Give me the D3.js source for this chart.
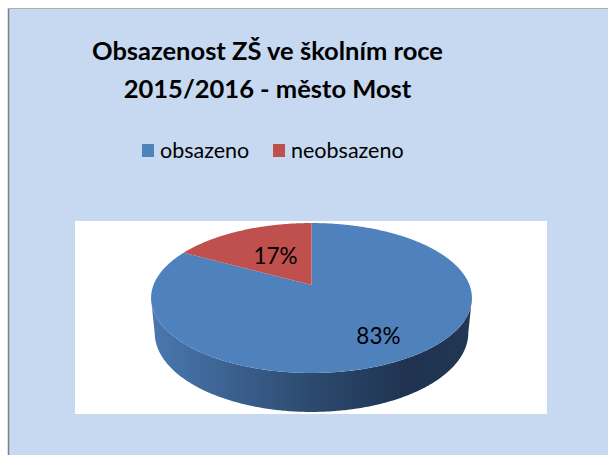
<!DOCTYPE html>
<html>
<head>
<meta charset="utf-8">
<script src="https://d3js.org/d3.v7.min.js"></script>
<style>
  body { margin: 0; background: #fff; }
  text { font-family: Lato, "Open Sans", sans-serif; }
</style>
</head>
<body>
<div id="chart"></div>
<script>
// data
var categories = ["obsazeno", "neobsazeno"];
var values = [83, 17];
var colors = ["#4f81bd", "#c0504d"];
var titleLines = ["Obsazenost ZŠ ve školním roce", "2015/2016 - město Most"];

var W = 608, H = 455;
var svg = d3.select("#chart").append("svg").attr("width", W).attr("height", H);

// chart frame
svg.append("rect").attr("x", 9).attr("y", 9).attr("width", W - 9).attr("height", H - 9).attr("fill", "#c6d9f0");
svg.append("line").attr("x1", 8.5).attr("x2", 8.5).attr("y1", 8).attr("y2", H).attr("stroke", "#7f7f7f").attr("stroke-width", 1.5);
svg.append("line").attr("x1", 8).attr("x2", W).attr("y1", 8.5).attr("y2", 8.5).attr("stroke", "#b0b0b0").attr("stroke-width", 1);

// plot area
svg.append("rect").attr("x", 75).attr("y", 221).attr("width", 472).attr("height", 193).attr("fill", "#fff");

// title
var title = svg.append("g");
titleLines.forEach(function(t, i) {
  title.append("text")
    .attr("x", 267.5).attr("y", 60 + i * 38)
    .attr("text-anchor", "middle")
    .style("font-weight", "bold").style("font-size", "25.5px").attr("fill", "#000")
    .text(t);
});

// legend
var legend = svg.append("g");
var lx = [142, 273];
categories.forEach(function(c, i) {
  legend.append("rect").attr("x", lx[i]).attr("y", 144).attr("width", 12).attr("height", 13).attr("fill", colors[i]);
  legend.append("text").attr("x", lx[i] + 18).attr("y", 158)
    .style("font-size", "21.5px").attr("fill", "#000").text(c);
});

// 3d pie with simple perspective projection
var cx = 311.5, cy = 285;
var tilt = 27.4 * Math.PI / 180, D = 5.12, f = 809, h = 0.25;
function project(ang, r, y) {
  var u = r * Math.sin(ang), z = r * Math.cos(ang);
  var yc = y * Math.cos(tilt) + z * Math.sin(tilt);
  var d = D + z * Math.cos(tilt) - y * Math.sin(tilt);
  return [cx + f * u / d, cy - f * yc / d];
}

var pie = d3.pie().sort(null).value(function(d) { return d; });
var arcs = pie(values);
var line = d3.line();

// side band (only the front is visible)
var grad = svg.append("defs").append("linearGradient").attr("id", "side")
  .attr("gradientUnits", "userSpaceOnUse").attr("x1", 151).attr("x2", 472).attr("y1", 0).attr("y2", 0);
grad.append("stop").attr("offset", 0).attr("stop-color", "#4a78b0");
grad.append("stop").attr("offset", 0.5).attr("stop-color", "#2c4a6f");
grad.append("stop").attr("offset", 0.8).attr("stop-color", "#1f3350");
grad.append("stop").attr("offset", 1).attr("stop-color", "#213753");

var tMin = Math.acos(-1 / (D * Math.cos(tilt)));
var tMax = 2 * Math.PI - tMin;
var rimTop = [], rimBot = [];
for (var a = tMin - 0.05; a <= tMax + 0.05; a += 0.01) {
  rimTop.push(project(a, 1, 0));
  rimBot.push(project(a, 1, -h));
}
svg.append("path").attr("d", line(rimTop.concat(rimBot.reverse())) + "Z").attr("fill", "url(#side)");

// top faces
arcs.forEach(function(d, i) {
  var pts = [project(0, 0, 0)];
  var n = Math.max(2, Math.ceil((d.endAngle - d.startAngle) / 0.01));
  for (var k = 0; k <= n; k++) {
    pts.push(project(d.startAngle + (d.endAngle - d.startAngle) * k / n, 1, 0));
  }
  svg.append("path").attr("d", line(pts) + "Z").attr("fill", colors[i]);
});

// data labels
var labelR = [0.74, 0.48];
arcs.forEach(function(d, i) {
  var p = project((d.startAngle + d.endAngle) / 2, labelR[i], 0);
  svg.append("text").attr("x", p[0]).attr("y", p[1] + 7)
    .attr("text-anchor", "middle").style("font-size", "22.5px").attr("fill", "#000")
    .text(Math.round(d.value) + "%");
});
</script>
</body>
</html>
